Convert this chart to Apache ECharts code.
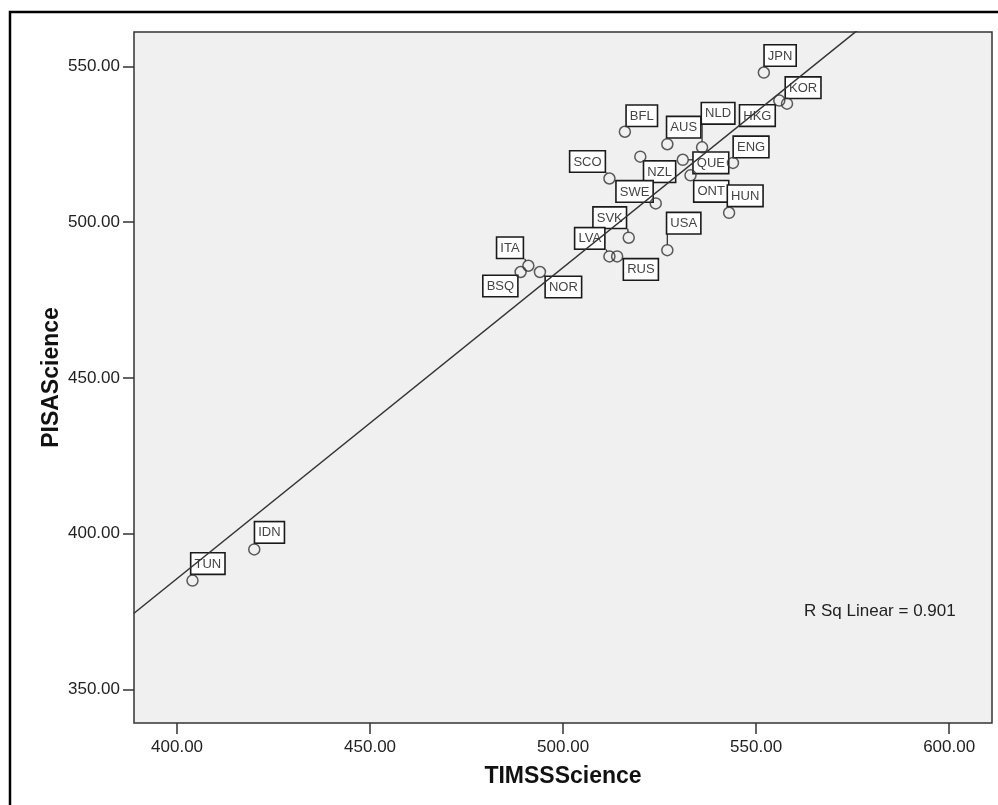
<!DOCTYPE html>
<html>
<head>
<meta charset="utf-8">
<title>PISA vs TIMSS Science</title>
<script src="https://cdn.jsdelivr.net/npm/echarts@6/dist/echarts.min.js"></script>
<style>
  html, body { margin: 0; padding: 0; background: #fff; }
  #chart { width: 998px; height: 805px; }
</style>
</head>
<body>
<div id="chart"></div>
<script>
// data
var countries = ['JPN','KOR','HKG','BFL','AUS','NLD','ENG','QUE','NZL','ONT','SCO',
                 'SWE','HUN','SVK','USA','LVA','RUS','ITA','BSQ','NOR','IDN','TUN'];
var timssScience = [552,558,556,516,527,536,544,531,520,533,512,
                    524,543,517,527,512,514,491,489,494,420,404];
var pisaScience  = [548,538,539,529,525,524,519,520,521,515,514,
                    506,503,495,491,489,489,486,484,484,395,385];
var xTicks = [400, 450, 500, 550, 600];
var yTicks = [350, 400, 450, 500, 550];
var rSqText = 'R Sq Linear = 0.901';

// where each label box sits relative to its point (px, top-left of the box)
var labelOffset = {
  JPN:[1,-27], KOR:[-1,-26], HKG:[-39,5], BFL:[2,-26], AUS:[0,-27], NLD:[0,-44],
  ENG:[1,-26], QUE:[11,-7], NZL:[4,5], ONT:[4,6], SCO:[-39,-27], SWE:[-39,-22],
  HUN:[-1,-27], SVK:[-35,-30], USA:[0,-37], LVA:[-34,-28], RUS:[7,3], ITA:[-31,-28],
  BSQ:[-37,4], NOR:[6,5], IDN:[1,-27], TUN:[-1,-27]
};

var FONT = '"Liberation Sans", Arial, sans-serif';
var xMin = 388.85, xMax = 611.1, yMin = 339.3, yMax = 561.0;

var points = countries.map(function (c, i) {
  return [timssScience[i], pisaScience[i], c];
});

// least squares fit line
var n = timssScience.length, mx = 0, my = 0;
for (var i = 0; i < n; i++) { mx += timssScience[i]; my += pisaScience[i]; }
mx /= n; my /= n;
var sxy = 0, sxx = 0;
for (i = 0; i < n; i++) {
  sxy += (timssScience[i] - mx) * (pisaScience[i] - my);
  sxx += (timssScience[i] - mx) * (timssScience[i] - mx);
}
var slope = sxy / sxx, icpt = my - slope * mx;
var fitLine = [[xMin, icpt + slope * xMin], [xMax, icpt + slope * xMax]];

var measureCtx = document.createElement('canvas').getContext('2d');
measureCtx.font = '13px ' + FONT;

function renderLabel(params, api) {
  var name = countries[params.dataIndex];
  var p = api.coord([api.value(0), api.value(1)]);
  var off = labelOffset[name] || [2, -26];
  var bx = p[0] + off[0], by = p[1] + off[1];
  var bw = measureCtx.measureText(name).width + 8, bh = 21;
  // nearest point of the box to the point
  var nx = Math.min(Math.max(p[0], bx), bx + bw);
  var ny = Math.min(Math.max(p[1], by), by + bh);
  var dx = nx - p[0], dy = ny - p[1], d = Math.sqrt(dx * dx + dy * dy);
  var children = [];
  if (d > 5.5) {
    children.push({
      type: 'line',
      shape: { x1: p[0] + dx / d * 5.5, y1: p[1] + dy / d * 5.5, x2: nx, y2: ny },
      style: { stroke: '#333', lineWidth: 1.3 }
    });
  }
  children.push({
    type: 'text',
    style: {
      x: bx, y: by, text: name, font: '13px ' + FONT, fill: '#444',
      align: 'left', verticalAlign: 'top',
      backgroundColor: '#fff', borderColor: '#1a1a1a', borderWidth: 1.6,
      padding: [4, 3, 3, 3]
    }
  });
  return { type: 'group', children: children };
}

var chart = echarts.init(document.getElementById('chart'));
chart.setOption({
  animation: false,
  backgroundColor: '#fff',
  textStyle: { fontFamily: FONT },
  grid: {
    left: 134, right: 6, top: 32, bottom: 82,
    show: true, backgroundColor: '#f0f0f0', borderColor: '#333', borderWidth: 1.5
  },
  xAxis: {
    type: 'value', min: xMin, max: xMax,
    name: 'TIMSSScience', nameLocation: 'middle', nameGap: 42, nameMoveOverlap: false,
    nameTextStyle: { fontSize: 23, fontWeight: 'bold', color: '#111', fontFamily: FONT },
    axisLine: { show: false },
    splitLine: { show: false },
    axisTick: { show: true, length: 11, customValues: xTicks, lineStyle: { color: '#333', width: 1.5 } },
    axisLabel: { customValues: xTicks, margin: 16, fontSize: 17, color: '#222', fontFamily: FONT,
      formatter: function (v) { return v.toFixed(2); } }
  },
  yAxis: {
    type: 'value', min: yMin, max: yMax,
    name: 'PISAScience', nameLocation: 'middle', nameGap: 71, nameMoveOverlap: false,
    nameTextStyle: { fontSize: 23, fontWeight: 'bold', color: '#111', fontFamily: FONT },
    axisLine: { show: false },
    splitLine: { show: false },
    axisTick: { show: true, length: 11, customValues: yTicks, lineStyle: { color: '#333', width: 1.5 } },
    axisLabel: { customValues: yTicks, margin: 14, fontSize: 17, color: '#222', fontFamily: FONT,
      formatter: function (v) { return v.toFixed(2); } }
  },
  graphic: [
    { type: 'rect', shape: { x: 10, y: 12, width: 1000, height: 800 },
      style: { fill: 'none', stroke: '#000', lineWidth: 2.5 }, z: 100 },
    { type: 'text', left: 804, top: 603,
      style: { text: rSqText, font: '17px ' + FONT, fill: '#222' } }
  ],
  series: [
    {
      type: 'custom', data: points, z: 2,
      renderItem: renderLabel
    },
    {
      type: 'scatter', data: points, z: 3,
      symbol: 'circle', symbolSize: 11,
      itemStyle: { color: 'rgba(0,0,0,0)', borderColor: '#333', borderWidth: 1.5 }
    },
    {
      type: 'line', data: fitLine, z: 4, symbol: 'none', clip: true,
      lineStyle: { color: '#333', width: 1.5 }
    }
  ]
});
</script>
</body>
</html>
